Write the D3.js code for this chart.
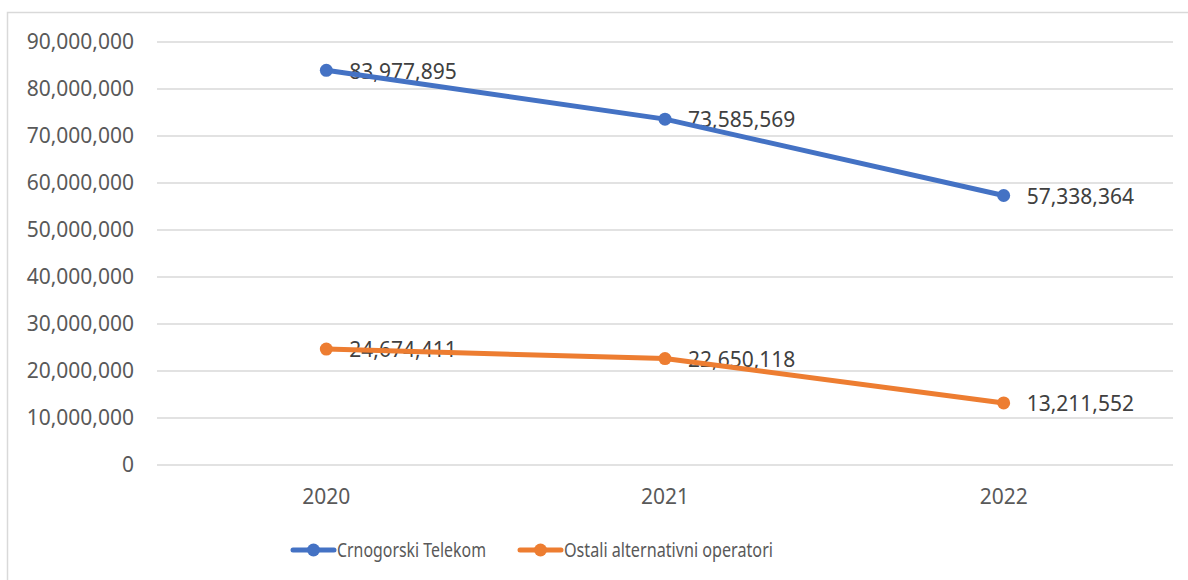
<!DOCTYPE html>
<html>
<head>
<meta charset="utf-8">
<script src="https://cdn.jsdelivr.net/npm/d3@7"></script>
<style>
  body { margin: 0; background: #fff; }
  text { font-family: "Noto Sans", sans-serif; }
</style>
</head>
<body>
<svg id="chart" width="1188" height="580"></svg>
<script>
let years = ['2020', '2021', '2022'];
let telekom = [83977895, 73585569, 57338364];
let ostali = [24674411, 22650118, 13211552];
let seriesNames = ['Crnogorski Telekom', 'Ostali alternativni operatori'];
let yTicks = [0, 10000000, 20000000, 30000000, 40000000, 50000000, 60000000, 70000000, 80000000, 90000000];

let series = [
    {name: seriesNames[0], values: telekom, color: '#4472C4'},
    {name: seriesNames[1], values: ostali, color: '#ED7D31'},
];

let svg = d3.select('#chart')

// chart frame (cut off at right and bottom like the screenshot)
svg.append('rect')
    .attr('x', 7.5)
    .attr('y', 12.5)
    .attr('width', 1300)
    .attr('height', 700)
    .attr('fill', '#fff')
    .attr('stroke', '#D9D9D9')
    .attr('stroke-width', 1.5)

let x = d3.scaleBand().domain(years).range([157, 1173])
let y = d3.scaleLinear().domain([0, 90000000]).range([465, 42])
let fmt = d3.format(',')

// gridlines
svg.append('g')
    .selectAll('line')
    .data(yTicks)
    .enter()
    .append('line')
    .attr('x1', 157)
    .attr('x2', 1173)
    .attr('y1', (d) => y(d))
    .attr('y2', (d) => y(d))
    .attr('stroke', '#D9D9D9')
    .attr('stroke-width', 1.5)

// y labels
svg.append('g')
    .selectAll('text')
    .data(yTicks)
    .enter()
    .append('text')
    .attr('x', 134)
    .attr('y', (d) => y(d))
    .attr('dy', '0.35em')
    .attr('text-anchor', 'end')
    .attr('font-size', 21)
    .attr('fill', '#595959')
    .text((d) => fmt(d))

// x labels
svg.append('g')
    .selectAll('text')
    .data(years)
    .enter()
    .append('text')
    .attr('x', (d) => x(d) + x.bandwidth() / 2)
    .attr('y', 497)
    .attr('dy', '0.35em')
    .attr('text-anchor', 'middle')
    .attr('font-size', 21)
    .attr('fill', '#595959')
    .text((d) => d)

let cx = (i) => x(years[i]) + x.bandwidth() / 2

// data labels (drawn under the lines)
series.forEach((s) => {
    svg.append('g')
        .selectAll('text')
        .data(s.values)
        .enter()
        .append('text')
        .attr('x', (d, i) => cx(i) + 23)
        .attr('y', (d) => y(d) + 1)
        .attr('dy', '0.35em')
        .attr('font-size', 21)
        .attr('fill', '#404040')
        .text((d) => fmt(d))
})

let line = d3.line()
    .x((d, i) => cx(i))
    .y((d) => y(d))

series.forEach((s) => {
    svg.append('path')
        .datum(s.values)
        .attr('d', line)
        .attr('fill', 'none')
        .attr('stroke', s.color)
        .attr('stroke-width', 5)
        .attr('stroke-linecap', 'round')
        .attr('stroke-linejoin', 'round')

    svg.append('g')
        .selectAll('circle')
        .data(s.values)
        .enter()
        .append('circle')
        .attr('cx', (d, i) => cx(i))
        .attr('cy', (d) => y(d))
        .attr('r', 6.5)
        .attr('fill', s.color)
})

// legend
let legendX = [293, 520]
let legendW = [149, 209]
series.forEach((s, i) => {
    let g = svg.append('g').attr('transform', 'translate(' + legendX[i] + ',550)')
    g.append('line')
        .attr('x1', 0)
        .attr('x2', 41)
        .attr('y1', 0)
        .attr('y2', 0)
        .attr('stroke', s.color)
        .attr('stroke-width', 5)
        .attr('stroke-linecap', 'round')
    g.append('circle')
        .attr('cx', 20.5)
        .attr('cy', 0)
        .attr('r', 6.5)
        .attr('fill', s.color)
    g.append('text')
        .attr('x', 44)
        .attr('y', 0)
        .attr('dy', '0.35em')
        .attr('font-size', 19)
        .attr('fill', '#595959')
        .attr('textLength', legendW[i])
        .attr('lengthAdjust', 'spacingAndGlyphs')
        .text(s.name)
})
</script>
</body>
</html>
